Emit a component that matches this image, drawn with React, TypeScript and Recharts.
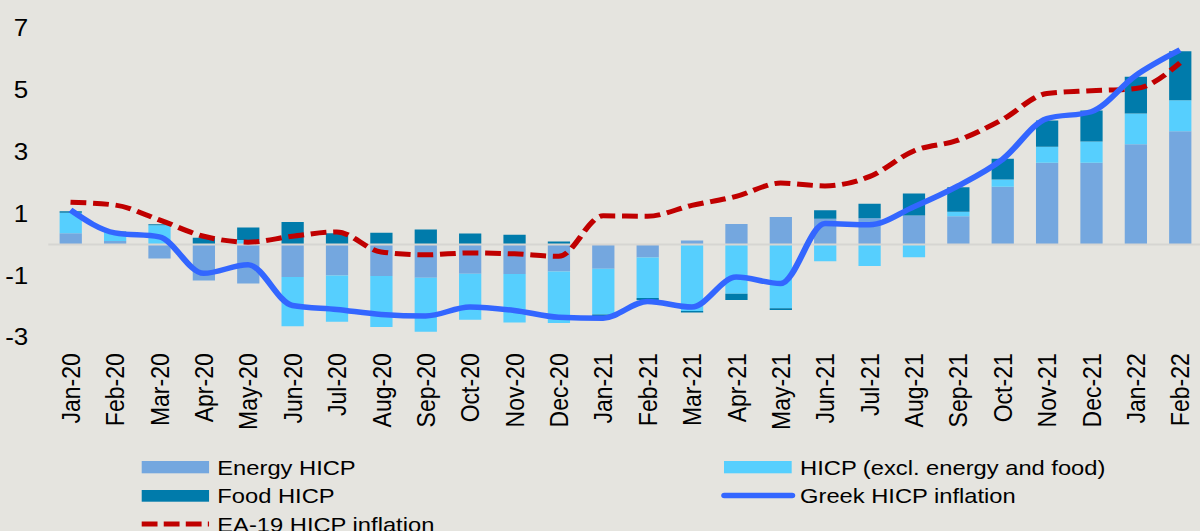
import React from 'react';
import { ComposedChart, Bar, Line, XAxis, YAxis, ReferenceLine, Legend } from 'recharts';

const categories = [
  'Jan-20', 'Feb-20', 'Mar-20', 'Apr-20', 'May-20', 'Jun-20', 'Jul-20', 'Aug-20', 'Sep-20', 'Oct-20',
  'Nov-20', 'Dec-20', 'Jan-21', 'Feb-21', 'Mar-21', 'Apr-21', 'May-21', 'Jun-21', 'Jul-21', 'Aug-21',
  'Sep-21', 'Oct-21', 'Nov-21', 'Dec-21', 'Jan-22', 'Feb-22',
];

const energyHicp = [
  0.37, 0.12, -0.45, -1.16, -1.26, -1.05, -1.0, -1.02, -1.07, -0.94,
  -0.95, -0.87, -0.78, -0.42, 0.13, 0.67, 0.89, 0.84, 0.85, 0.94,
  0.92, 1.87, 2.65, 2.65, 3.25, 3.67,
];

const coreHicp = [
  0.66, 0.29, 0.63, 0.0, 0.15, -1.59, -1.5, -1.65, -1.75, -1.49,
  -1.57, -1.67, -1.48, -1.31, -2.15, -1.59, -2.06, -0.54, -0.69, -0.41,
  0.14, 0.24, 0.52, 0.69, 0.99, 1.0,
];

const foodHicp = [
  0.05, 0.01, 0.03, 0.22, 0.4, 0.73, 0.37, 0.38, 0.49, 0.36,
  0.32, 0.1, -0.05, -0.07, -0.05, -0.2, -0.06, 0.27, 0.47, 0.71,
  0.8, 0.67, 0.85, 1.0, 1.19, 1.59,
];

const greekHicp = [
  1.12, 0.38, 0.25, -0.93, -0.65, -1.97, -2.1, -2.26, -2.31, -2.02,
  -2.13, -2.35, -2.38, -1.84, -2.02, -1.05, -1.26, 0.68, 0.64, 1.22,
  1.9, 2.76, 4.08, 4.3, 5.47, 6.3,
];

const ea19Hicp = [
  1.37, 1.28, 0.8, 0.27, 0.08, 0.27, 0.41, -0.24, -0.33, -0.27,
  -0.3, -0.38, 0.93, 0.92, 1.27, 1.56, 1.99, 1.9, 2.2, 3.03,
  3.38, 4.05, 4.89, 4.98, 5.05, 5.88,
];

const yTicks = [-3, -1, 1, 3, 5, 7];

const data = categories.map((month, i) => ({
  month,
  energy: energyHicp[i],
  core: coreHicp[i],
  food: foodHicp[i],
  greek: greekHicp[i],
  ea: ea19Hicp[i],
}));

const FONT = '"Liberation Sans", Arial, Helvetica, sans-serif';
const C_ENERGY = '#74a7df';
const C_CORE = '#56cffe';
const C_FOOD = '#007bab';
const C_GREEK = '#3366ff';
const C_EA = '#c00000';
const BG = '#e5e4df';

const XTick = (props: any) => {
  const { x, y, payload } = props;
  return (
    <g transform={`translate(${x},${y})`}>
      <text
        transform="rotate(-90)"
        x={-16}
        y={0}
        dy="0.36em"
        textAnchor="end"
        fontSize={23}
        fontFamily={FONT}
        fill="#000"
      >
        {payload.value}
      </text>
    </g>
  );
};

const LegendContent = () => {
  const textStyle = { fontSize: 21, fontFamily: FONT, fill: '#000' } as const;
  return (
    <svg width={1070} height={100} style={{ display: 'block', overflow: 'visible' }}>
      <rect x={125.4} y={16} width={59.6} height={12.3} fill={C_ENERGY} />
      <text x={192.3} y={30} {...textStyle}>Energy HICP</text>
      <rect x={125.4} y={45} width={59.6} height={11.7} fill={C_FOOD} />
      <text x={192.3} y={58.5} {...textStyle}>Food HICP</text>
      <line x1={125.4} x2={185} y1={79} y2={79} stroke={C_EA} strokeWidth={5} strokeDasharray="14 5.5" />
      <text x={192.3} y={87} {...textStyle}>EA-19 HICP inflation</text>
      <rect x={640.7} y={16} width={59.9} height={12.3} fill={C_CORE} />
      <text x={708} y={30} {...textStyle}>HICP (excl. energy and food)</text>
      <line x1={641} x2={701} y1={50.5} y2={50.5} stroke={C_GREEK} strokeWidth={5.5} strokeLinecap="round" />
      <text x={708} y={58.5} {...textStyle}>Greek HICP inflation</text>
    </svg>
  );
};

export default function App() {
  return (
    <div
      style={{
        position: 'fixed',
        left: 0,
        top: 0,
        width: 1200,
        height: 531,
        overflow: 'hidden',
        background: BG,
      }}
    >
      <div style={{ width: 1070, height: 531, transform: 'scaleX(1.13)', transformOrigin: '0 0' }}>
        <ComposedChart
          width={1070}
          height={531}
          data={data}
          stackOffset="sign"
          margin={{ top: 28.3, right: 6.1, left: 0, bottom: 133.7 }}
          barCategoryGap={0}
        >
          <XAxis
            dataKey="month"
            interval={0}
            axisLine={false}
            tickLine={false}
            tickSize={0}
            tickMargin={0}
            height={60}
            tick={<XTick />}
          />
          <YAxis
            domain={[-3, 7]}
            ticks={yTicks}
            allowDataOverflow
            axisLine={false}
            tickLine={false}
            tickSize={0}
            tickMargin={17.75}
            width={42.75}
            tick={{ fontSize: 23, fontFamily: FONT, fill: '#000' }}
          />
          <ReferenceLine y={0} stroke="#d6d5d2" strokeWidth={2} />
          <Bar dataKey="energy" stackId="a" fill={C_ENERGY} barSize={19.7} isAnimationActive={false} />
          <Bar dataKey="core" stackId="a" fill={C_CORE} barSize={19.7} isAnimationActive={false} />
          <Bar dataKey="food" stackId="a" fill={C_FOOD} barSize={19.7} isAnimationActive={false} />
          <Line
            type="monotone"
            dataKey="ea"
            stroke={C_EA}
            strokeWidth={5}
            strokeDasharray="14 6"
            dot={false}
            activeDot={false}
            isAnimationActive={false}
          />
          <Line
            type="monotone"
            dataKey="greek"
            stroke={C_GREEK}
            strokeWidth={5.5}
            dot={false}
            activeDot={false}
            isAnimationActive={false}
          />
          <Legend
            layout="horizontal"
            align="center"
            verticalAlign="middle"
            content={<LegendContent />}
            wrapperStyle={{ position: 'absolute', left: 0, top: 445, width: 1070, height: 0 }}
          />
        </ComposedChart>
      </div>
    </div>
  );
}
